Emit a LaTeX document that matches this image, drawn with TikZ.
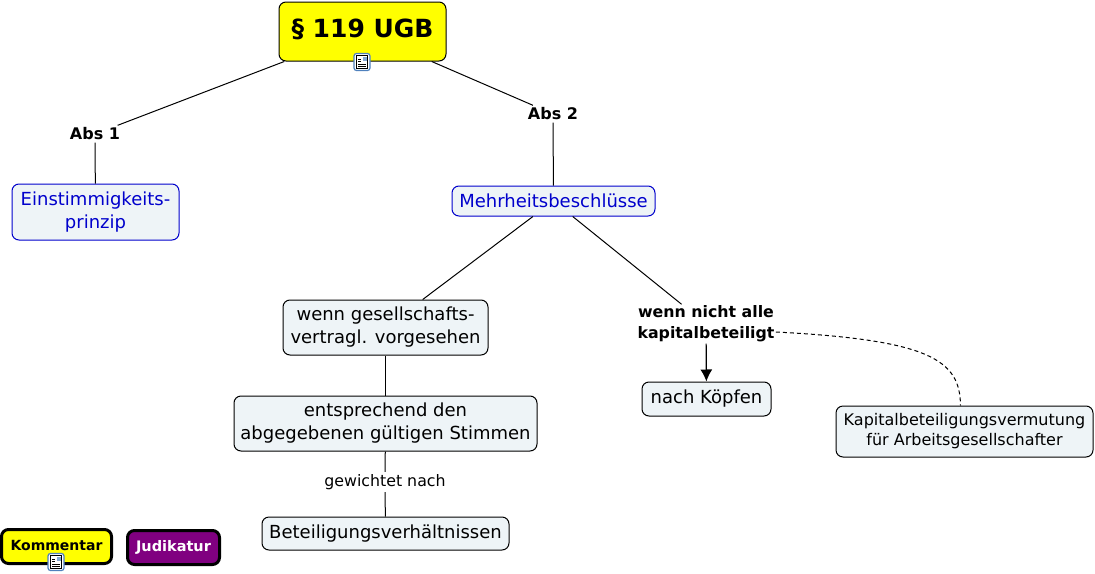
\documentclass[tikz,border=0pt]{standalone}
\usepackage{fontspec}
\setmainfont{DejaVu Sans}
\usetikzlibrary{arrows.meta}

\definecolor{boxfill}{HTML}{EEF4F7}
\definecolor{conceptblue}{HTML}{0000CC}
\definecolor{judikatur}{HTML}{800080}
\definecolor{iconblue}{HTML}{4F81BD}
\definecolor{noteyellow}{HTML}{FFFF00}

\tikzset{
  concept/.style={draw=black, fill=boxfill, rounded corners=7pt, align=center, inner sep=0pt},
  blueconcept/.style={concept, draw=conceptblue, text=conceptblue},
  linklabel/.style={fill=white, align=center, inner sep=2pt},
  legend/.style={draw=black, line width=3pt, rounded corners=7pt, align=center, inner sep=0pt, font=\fontsize{14}{16}\selectfont\bfseries},
  notebox/.style={draw=iconblue, line width=1.2pt, fill=white, rounded corners=2.5pt, minimum width=16pt, minimum height=17pt, inner sep=0pt}
}

\newcommand{\noteicon}[3]{%
  \node[notebox] at (#2,#3) (#1) {};
  \draw[black, fill=white, line width=1pt] (#2-5.5,#3-6.5) rectangle (#2+5.5,#3+6.5);
  \fill[iconblue!70] (#2+0.5,#3-5.5) rectangle (#2+4.5,#3-1.5);
  \foreach \y/\e in {-3/-1,-0.5/-1,2/4,4.5/4}
    \draw[black, line width=0.8pt] (#2-4,#3+\y) -- (#2+\e,#3+\y);
}

\begin{document}
\begin{tikzpicture}[x=1pt, y=-1pt, line width=1pt]

\useasboundingbox (0,0) rectangle (1095,573);

\node[concept, fill=noteyellow, minimum width=167pt, minimum height=59pt, font=\fontsize{25}{28}\selectfont\bfseries] at (362.5,31.5) (ugb) {\raisebox{7pt}{§ 119 UGB}};

\node[linklabel, font=\fontsize{16}{18}\selectfont\bfseries] at (95,134) (abs1) {Abs 1};
\node[linklabel, font=\fontsize{16}{18}\selectfont\bfseries] at (553,114) (abs2) {Abs 2};

\node[blueconcept, minimum width=167pt, minimum height=56pt, font=\fontsize{18}{23}\selectfont] at (95.5,212) (prinzip) {Einstimmigkeits-\\prinzip};
\node[blueconcept, minimum width=203pt, minimum height=30pt, font=\fontsize{18}{23}\selectfont] at (553.5,201) (mehrheit) {\raisebox{-1pt}{Mehrheitsbeschlüsse}};

\node[concept, minimum width=205pt, minimum height=55pt, font=\fontsize{18}{23}\selectfont] at (385.5,327.5) (vertrag) {wenn gesellschafts-\\vertragl. vorgesehen};
\node[linklabel, inner sep=1pt, font=\fontsize{15.8}{21}\selectfont\bfseries] at (706,324) (nichtalle) {wenn nicht alle\\kapitalbeteiligt};

\node[concept, minimum width=303pt, minimum height=55pt, font=\fontsize{18}{23}\selectfont] at (385.5,423.5) (stimmen) {entsprechend den\\abgegebenen gültigen Stimmen};
\node[linklabel, font=\fontsize{15.8}{18}\selectfont] at (385,482) (gewichtet) {gewichtet nach};
\node[concept, minimum width=247pt, minimum height=33pt, font=\fontsize{18}{23}\selectfont] at (385.5,533.5) (anteile) {Beteiligungsverhältnissen};

\node[concept, minimum width=129pt, minimum height=34pt, font=\fontsize{18}{23}\selectfont] at (706.5,399) (koepfe) {nach Köpfen};
\node[concept, minimum width=257pt, minimum height=51pt, font=\fontsize{16}{20}\selectfont] at (964.5,431.5) (vermutung) {Kapitalbeteiligungsvermutung\\für Arbeitsgesellschafter};

\node[legend, fill=noteyellow, minimum width=110pt, minimum height=34pt] at (56.5,546.5) (kommentar) {\raisebox{3pt}{Kommentar}};
\node[legend, fill=judikatur, text=white, font=\fontsize{14.5}{16}\selectfont\bfseries, minimum width=92pt, minimum height=34pt] at (173.5,547.5) (judik) {Judikatur};

\draw (ugb) -- (abs1);
\draw (ugb) -- (abs2);
\draw (abs1) -- (prinzip);
\draw (abs2) -- (mehrheit);
\draw (mehrheit) -- (vertrag);
\draw (mehrheit) -- (nichtalle);
\draw (vertrag) -- (stimmen);
\draw (stimmen) -- (gewichtet);
\draw (gewichtet) -- (anteile);

\draw[-{Latex[length=12pt, width=12pt]}, line width=1.2pt] (nichtalle) -- (koepfe);
\draw[dashed, dash pattern=on 4pt off 3pt] ([yshift=-8pt]nichtalle.east) .. controls (930,340) and (960,360) .. ([xshift=-4pt]vermutung.north);

\noteicon{ugbnote}{362}{62}
\noteicon{komnote}{56}{562}

\end{tikzpicture}
\end{document}
